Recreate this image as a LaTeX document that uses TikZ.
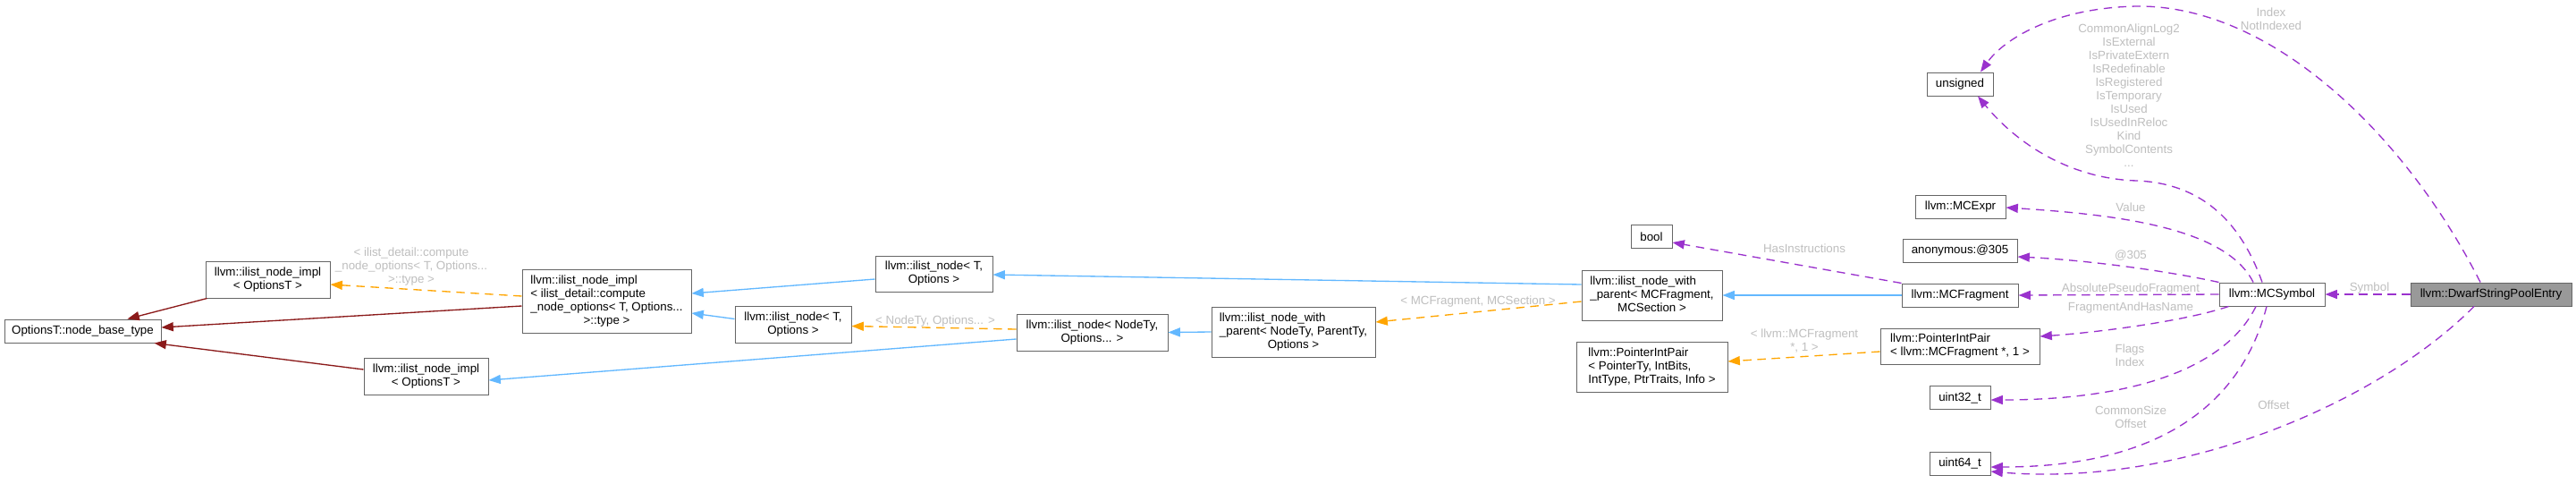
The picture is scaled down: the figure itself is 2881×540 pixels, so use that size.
\documentclass[tikz,border=0pt]{standalone}
\usepackage{fontspec}
\setmainfont{Liberation Sans}
\usepackage{tikz}
\usetikzlibrary{arrows.meta, calc}
\definecolor{inhblue}{HTML}{63B8FF}
\definecolor{tplorange}{HTML}{FFA500}
\definecolor{usepurple}{HTML}{9A32CD}
\definecolor{privred}{HTML}{8B1A1A}
\definecolor{boxgrey}{HTML}{666666}
\definecolor{rootgrey}{HTML}{999999}
\definecolor{lblgrey}{HTML}{BEBEBE}
\newcommand{\lefttab}[1]{\begin{tabular}{@{}l@{}}#1\end{tabular}}
\newcommand{\midline}[1]{\multicolumn{1}{@{}c@{}}{#1}}
\tikzstyle{cls} = [draw=boxgrey, fill=white, line width=0.75pt, inner sep=0pt, align=center, font=\fontsize{10}{11.25}\selectfont]
\tikzstyle{lbl} = [text=lblgrey, inner sep=0pt, align=center, font=\fontsize{10}{11.25}\selectfont]
\tikzstyle{inh} = [line width=1pt, draw=inhblue, -{Triangle[length=10pt,width=7.5pt]}]
\tikzstyle{priv} = [line width=1pt, draw=privred, -{Triangle[length=10pt,width=7.5pt]}]
\tikzstyle{tpl} = [line width=1pt, draw=tplorange, dash pattern=on 7pt off 5pt, -{Triangle[length=10pt,width=7.5pt]}]
\tikzstyle{use} = [line width=1pt, draw=usepurple, dash pattern=on 7pt off 5pt, -{Triangle[length=10pt,width=7.5pt]}]

\begin{document}
\begin{tikzpicture}[x={(0.75pt,0)}, y={(0,-0.75pt)}, sz/.style 2 args={minimum width=#1*0.75pt, minimum height=#2*0.75pt}]
    \useasboundingbox (0,0) rectangle (2881,540);
    % classes
    \node[cls, sz={175}{26}] (base) at (92.5,370) {OptionsT::node\_base\_type};
    \node[cls, sz={139}{41}] (implA) at (299.5,312.5) {llvm::ilist\_node\_impl\\< OptionsT >};
    \node[cls, sz={139}{41}] (implB) at (476.5,420.5) {llvm::ilist\_node\_impl\\< OptionsT >};
    \node[cls, sz={189}{71}] (implC) at (678.5,336.5) {\lefttab{llvm::ilist\_node\_impl\\< ilist\_detail::compute\\\_node\_options< T, Options...\\\midline{>::type >}}};
    \node[cls, sz={131}{40}] (nodeTa) at (1044.5,306) {llvm::ilist\_node< T,\\Options >};
    \node[cls, sz={130}{41}] (nodeTb) at (887,362.5) {llvm::ilist\_node< T,\\Options >};
    \node[cls, sz={169}{41}] (nodeNT) at (1221.5,371.5) {llvm::ilist\_node< NodeTy,\\Options... >};
    \node[cls, sz={183}{56}] (wpNT) at (1446.5,371) {\lefttab{llvm::ilist\_node\_with\\\_parent< NodeTy, ParentTy,\\\midline{Options >}}};
    \node[cls, sz={157}{56}] (wpMC) at (1847.5,330) {\lefttab{llvm::ilist\_node\_with\\\_parent< MCFragment,\\\midline{MCSection >}}};
    \node[cls, sz={169}{56}] (pipT) at (1847.5,410) {\lefttab{llvm::PointerIntPair\\< PointerTy, IntBits,\\\midline{IntType, PtrTraits, Info >}}};
    \node[cls, sz={46}{26}] (bool) at (1847,264.5) {bool};
    \node[cls, sz={74}{26}] (unsigned) at (2192,94) {unsigned};
    \node[cls, sz={101}{26}] (mcexpr) at (2192.5,231.5) {llvm::MCExpr};
    \node[cls, sz={128}{26}] (anon) at (2192,280.5) {anonymous:@305};
    \node[cls, sz={130}{26}] (mcfrag) at (2192,330) {llvm::MCFragment};
    \node[cls, sz={178}{40}] (pipMC) at (2192,387) {\lefttab{llvm::PointerIntPair\\< llvm::MCFragment *, 1 >}};
    \node[cls, sz={68}{26}] (u32) at (2192,444.5) {uint32\_t};
    \node[cls, sz={68}{26}] (u64) at (2192,518) {uint64\_t};
    \node[cls, sz={118}{26}] (mcsym) at (2541,329) {llvm::MCSymbol};
    \node[cls, sz={180}{26}, fill=rootgrey] (root) at (2786,329) {llvm::DwarfStringPoolEntry};

    % edge labels
    \foreach \n/\x/\y/\t in {lTplB/1046/359/{< NodeTy, Options... >}, lTplC/1653/337/{< MCFragment, MCSection >}, lHas/2018/278/HasInstructions, lSym/2650/322/Symbol, lVal/2383/232/Value, lAt/2383/286/@305, lAbs/2383/323/AbsolutePseudoFragment, lFrag/2383/344/FragmentAndHasName, lOff/2543/453/Offset}
        \node[lbl] (\n) at (\x,\y) {\t};
    \node[lbl] (lTplA) at (460,298) {< ilist\_detail::compute\\\_node\_options< T, Options...\\>::type >};
    \node[lbl] (lTplD) at (2018,381) {< llvm::MCFragment\\*, 1 >};
    \node[lbl] (lIdx) at (2540,21.5) {Index\\NotIndexed};
    \node[lbl] (lBits) at (2381,107) {CommonAlignLog2\\IsExternal\\IsPrivateExtern\\IsRedefinable\\IsRegistered\\IsTemporary\\IsUsed\\IsUsedInReloc\\Kind\\SymbolContents\\...};
    \node[lbl] (lFlags) at (2382,397) {Flags\\Index};
    \node[lbl] (lCom) at (2383,466) {CommonSize\\Offset};

    % inheritance
    \draw[priv] ($(implA.south west)+(2,0)$) -- ($(base.north)+(50,0)$);
    \draw[priv] ($(implC.west)+(0,5.5)$) -- ($(base.east)+(0,-4)$);
    \draw[priv] ($(implB.west)+(0,-7.5)$) -- ($(base.south east)+(-8,0)$);
    \draw[inh] ($(nodeTa.west)+(0,6)$) -- ($(implC.east)+(0,-8.5)$);
    \draw[inh] ($(nodeTb.west)+(0,-6)$) -- ($(implC.east)+(0,13.5)$);
    \draw[inh] ($(nodeNT.west)+(0,7.5)$) -- ($(implB.east)+(0,4.5)$);
    \draw[inh] (wpNT.west) -- (nodeNT.east);
    \draw[inh] ($(wpMC.west)+(0,-12)$) -- ($(nodeTa.east)+(0,1)$);
    \draw[inh] (mcfrag.west) -- (wpMC.east);

    % templates
    \draw[tpl] ($(implC.west)+(0,-5.5)$) -- ($(implA.east)+(0,5.5)$);
    \draw[tpl] ($(nodeNT.west)+(0,-3.5)$) -- ($(nodeTb.east)+(0,2)$);
    \draw[tpl] ($(wpMC.west)+(0,7)$) -- ($(wpNT.east)+(0,-11)$);
    \draw[tpl] ($(pipMC.west)+(0,6)$) -- ($(pipT.east)+(0,-6)$);

    % usage
    \draw[use] (mcfrag.north west) -- ($(bool.east)+(0,6.5)$);
    \draw[use] (root.west) -- (mcsym.east);
    \draw[use] (mcsym.west) -- (mcfrag.east);
    \draw[use] ($(mcsym.north)+(-11,0)$) .. controls (2505,245) and (2460,205) .. (2390,202) .. controls (2315,200) and (2255,160) .. ($(unsigned.south)+(20,0)$);
    \draw[use] ($(root.north)+(-12,0)$) .. controls (2690,150) and (2540,5) .. (2389,7) .. controls (2295,9) and (2240,45) .. ($(unsigned.north)+(23,0)$);
    \draw[use] ($(mcsym.north)+(-21,0)$) .. controls (2490,255) and (2370,240) .. ($(mcexpr.east)+(0,0.5)$);
    \draw[use] (mcsym.north west) .. controls (2410,300) and (2320,290) .. ($(anon.east)+(0,6.5)$);
    \draw[use] ($(mcsym.south west)+(11,0)$) .. controls (2440,360) and (2340,372) .. ($(pipMC.east)+(0,-11)$);
    \draw[use] ($(mcsym.south)+(-18,0)$) .. controls (2490,410) and (2390,447) .. ($(u32.east)+(0,2.5)$);
    \draw[use] ($(mcsym.south)+(-6,0)$) .. controls (2510,440) and (2430,522) .. ($(u64.east)+(0,4)$);
    \draw[use] ($(root.south)+(-19,0)$) .. controls (2660,450) and (2440,545) .. ($(u64.east)+(0,9)$);
\end{tikzpicture}
\end{document}
